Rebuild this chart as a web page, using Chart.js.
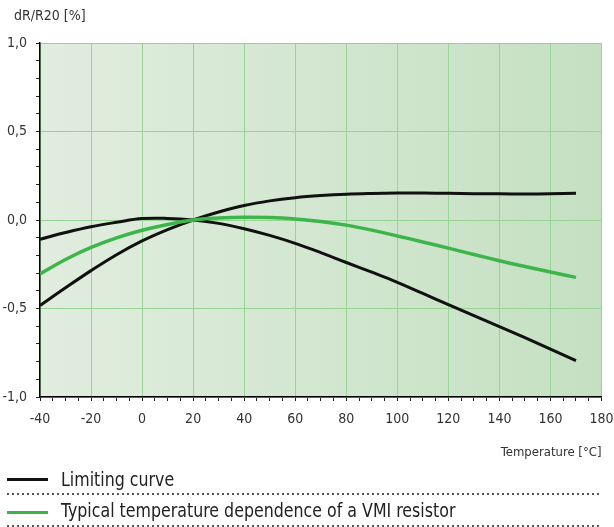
<!DOCTYPE html>
<html>
<head>
<meta charset="utf-8">
<script src="https://cdn.jsdelivr.net/npm/chart.js@4.4.0/dist/chart.umd.min.js"></script>
<style>
  html, body { margin: 0; padding: 0; background: #ffffff; }
  body { width: 614px; height: 527px; position: relative; overflow: hidden;
         font-family: "DejaVu Sans Condensed", "Liberation Sans Narrow", "Roboto", sans-serif; color: #333; }
  #wrap { position: absolute; left: 0; top: 0; width: 614px; height: 470px; }
  #ylabel { position: absolute; left: 14px; top: 7px; font-size: 14px; color: #333; white-space: nowrap; }
  .leg { position: absolute; left: 0; width: 614px; }
  .leg .sw { position: absolute; left: 7px; width: 41px; height: 3px; }
  .leg .tx { position: absolute; left: 61px; font-size: 20px; color: #222; white-space: nowrap; line-height: 20px;
             transform: scaleX(0.88); transform-origin: 0 50%; }
  .dots { position: absolute; left: 7px; width: 595px; height: 2px;
          background: repeating-linear-gradient(to right, #555 0 2px, transparent 2px 5px); }
</style>
</head>
<body>
<div id="wrap"><canvas id="c" width="614" height="470"></canvas></div>
<div id="ylabel">dR/R20 [%]</div>
<div class="leg" style="top:469px">
  <div class="sw" style="top:9px;background:#111"></div>
  <div class="tx" style="top:0px">Limiting curve</div>
</div>
<div class="dots" style="top:493px"></div>
<div class="leg" style="top:500px">
  <div class="sw" style="top:11px;background:#3db54a"></div>
  <div class="tx" style="top:0px">Typical temperature dependence of a VMI resistor</div>
</div>
<div class="dots" style="top:525px"></div>
<script>
// Temperatures (°C)
const temps = [-40, -30, -20, -10, 0, 10, 20, 30, 40, 50, 60, 70, 80, 90, 100, 110, 120, 130, 140, 150, 160, 170];
// Limiting curve, falling branch (dR/R20 in %)
const limitLower = [-0.109, -0.071, -0.038, -0.013, 0.008, 0.009, 0.000, -0.019, -0.049, -0.087, -0.132, -0.184, -0.240, -0.295, -0.352, -0.415, -0.478, -0.540, -0.602, -0.665, -0.730, -0.795];
// Limiting curve, rising branch
const limitUpper = [-0.483, -0.383, -0.286, -0.196, -0.118, -0.054, 0.000, 0.045, 0.082, 0.108, 0.126, 0.138, 0.146, 0.150, 0.152, 0.152, 0.151, 0.149, 0.148, 0.147, 0.148, 0.151];
// Typical temperature dependence of a VMI resistor
const typical = [-0.305, -0.223, -0.155, -0.101, -0.058, -0.025, 0.000, 0.011, 0.016, 0.014, 0.006, -0.008, -0.029, -0.057, -0.090, -0.124, -0.159, -0.195, -0.230, -0.263, -0.294, -0.324];
// Axis tick settings
const xMajorTicks = [-40, -20, 0, 20, 40, 60, 80, 100, 120, 140, 160, 180];
const yMajorTicks = [-1.0, -0.5, 0.0, 0.5, 1.0];

const FONT = '"DejaVu Sans Condensed", "Liberation Sans Narrow", "Roboto", sans-serif';
const GRID = '#98d496';
const pts = arr => arr.map((v, i) => ({ x: temps[i], y: v }));

const bgPlugin = {
  id: 'bg',
  beforeDraw(chart) {
    const { ctx, chartArea: a } = chart;
    const g = ctx.createLinearGradient(a.left, 0, a.right, 0);
    g.addColorStop(0, '#e1eddf');
    g.addColorStop(1, '#c4e0c1');
    ctx.save();
    ctx.fillStyle = g;
    ctx.fillRect(a.left, a.top, a.right - a.left, a.bottom - a.top);
    ctx.restore();
  }
};

const isXMajor = v => xMajorTicks.includes(Math.round(v));
const isYMajor = v => yMajorTicks.some(m => Math.abs(m - v) < 1e-6);

new Chart(document.getElementById('c'), {
  type: 'line',
  data: {
    datasets: [
      { label: 'Typical temperature dependence of a VMI resistor', data: pts(typical), borderColor: '#3db54a', borderWidth: 3.5, pointRadius: 0, tension: 0.4, fill: false },
      { label: 'Limiting curve', data: pts(limitLower), borderColor: '#111111', borderWidth: 3, pointRadius: 0, tension: 0.4, fill: false },
      { label: 'Limiting curve', data: pts(limitUpper), borderColor: '#111111', borderWidth: 3, pointRadius: 0, tension: 0.4, fill: false }
    ]
  },
  options: {
    responsive: false,
    animation: false,
    devicePixelRatio: 1,
    layout: { padding: { top: 43, right: 12.5, left: 0, bottom: 0 } },
    plugins: { legend: { display: false }, tooltip: { enabled: false }, title: { display: false } },
    scales: {
      x: {
        type: 'linear', min: -40, max: 180,
        afterFit(s) { s.height = 73; s.paddingLeft = 0; s.paddingRight = 0; },
        ticks: {
          stepSize: 5, autoSkip: false, maxRotation: 0, padding: 10,
          color: '#333', font: { family: FONT, size: 14 },
          callback: v => isXMajor(v) ? String(Math.round(v)) : ''
        },
        grid: {
          color: c => (c.tick && isXMajor(c.tick.value)) ? GRID : 'rgba(0,0,0,0)',
          tickColor: '#222', tickLength: 4, lineWidth: 1
        },
        border: { color: '#000', width: 1.5 },
        title: {
          display: true, text: 'Temperature [°C]', align: 'end',
          color: '#333', font: { family: FONT, size: 13 }, padding: { top: 0, bottom: 10 }
        }
      },
      y: {
        min: -1, max: 1,
        afterFit(s) { s.width = 40; s.paddingTop = 0; s.paddingBottom = 0; },
        ticks: {
          stepSize: 0.1, autoSkip: false, padding: 9,
          color: '#333', font: { family: FONT, size: 14 },
          callback: v => {
            if (!isYMajor(v)) return '';
            const r = Math.round(v * 10) / 10;
            return (r === 0 ? 0 : r).toFixed(1).replace('.', ',');
          }
        },
        grid: {
          color: c => (c.tick && isYMajor(c.tick.value)) ? GRID : 'rgba(0,0,0,0)',
          tickColor: '#222', tickLength: 4, lineWidth: 1
        },
        border: { color: '#000', width: 1.5 }
      }
    }
  },
  plugins: [bgPlugin]
});
</script>
</body>
</html>
